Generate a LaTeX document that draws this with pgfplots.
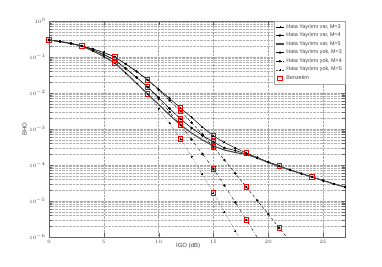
\documentclass[border=0pt]{standalone}
\usepackage{fontspec}
\setmainfont{Liberation Sans}
\usepackage{pgfplots}
\pgfplotsset{compat=1.18}
\begin{document}
\begin{tikzpicture}[x=1bp,y=1bp]
\path[use as bounding box] (-49bp,-30bp) rectangle (333bp,237bp);
\begin{axis}[
  at={(0,0)}, anchor=south west,
  scale only axis, width=296bp, height=216bp,
  ymode=log, xmin=0, xmax=27, ymin=1e-6, ymax=1,
  xtick={0,5,10,15,20,25},
  ytick={1e-6,1e-5,1e-4,1e-3,1e-2,1e-1,1},
  grid=both,
  major grid style={densely dotted, gray!70, line width=0.4pt},
  minor grid style={densely dotted, gray!60, line width=0.4pt},
  axis line style={gray!80!black, line width=0.5pt},
  tick style={gray!80!black},
  tick align=inside,
  ticklabel style={font=\fontsize{5}{6}\selectfont, text=black!75},
  label style={font=\fontsize{6}{7}\selectfont, text=black!75},
  xlabel={İGO (dB)},
  ylabel={BHO},
  xlabel style={at={(0.47,0)}, yshift=-2bp},
  ylabel style={yshift=-4bp},
  legend style={at={(1,1)}, anchor=north east, font=\fontsize{5.4}{6.4}\selectfont,
     draw=gray!70, fill=white, inner sep=1pt, row sep=-0.8pt, text=black!75},
  legend cell align=left,
  legend image code/.code={\draw[mark repeat=2,mark phase=2,#1] plot coordinates {(0bp,0bp) (4bp,0bp) (8bp,0bp)};},
  every axis plot/.append style={mark size=1pt},
]
% Hata Yayilimi var, M=3
\addplot[black, line width=0.5pt, mark=+] coordinates {
(0,0.2966)(1,0.2695)(2,0.2371)(3,0.2020)(4,0.1668)(5,0.1334)(6,0.1)(7,0.0639)(8,0.0396)(9,0.02297)
(10,0.01292)(11,0.00704)(12,0.00383)(13,0.00209)(14,0.001136)(15,0.000639)(16,0.000422)(17,0.000297)
(18,0.000215)(19,0.000162)(20,0.000121)(21,9.38e-5)(22,7.26e-5)(23,5.80e-5)(24,4.64e-5)(25,3.71e-5)(26,2.97e-5)(27,2.45e-5)};
\addlegendentry{Hata Yayılımı var, M=3}
% Hata Yayilimi var, M=4
\addplot[black, line width=0.5pt, mark=*] coordinates {
(0,0.2966)(1,0.2695)(2,0.2371)(3,0.2020)(4,0.1564)(5,0.1173)(6,0.0825)(7,0.0479)(8,0.02695)(9,0.01468)
(10,0.0075)(11,0.00371)(12,0.00190)(13,0.001066)(14,0.00066)(15,0.000435)(16,0.000297)(17,0.000253)
(18,0.000202)(19,0.000156)(20,0.000121)(21,9.38e-5)(22,7.26e-5)(23,5.80e-5)(24,4.64e-5)(25,3.71e-5)(26,2.97e-5)(27,2.45e-5)};
\addlegendentry{Hata Yayılımı var, M=4}
% Hata Yayilimi var, M=5
\addplot[gray!60!black, line width=1.1pt] coordinates {
(0,0.2966)(1,0.2695)(2,0.2371)(3,0.2020)(4,0.1468)(5,0.1032)(6,0.0681)(7,0.0359)(8,0.01836)(9,0.00938)
(10,0.00479)(11,0.00245)(12,0.001292)(13,0.000774)(14,0.000495)(15,0.000337)(16,0.000261)(17,0.000222)
(18,0.000196)(19,0.000156)(20,0.000117)(21,9.08e-5)(22,7.26e-5)(23,5.80e-5)(24,4.64e-5)(25,3.71e-5)(26,2.97e-5)(27,2.45e-5)};
\addlegendentry{Hata Yayılımı var, M=5}
% Hata Yayilimi yok, M=3
\addplot[black, densely dashed, line width=0.4pt, mark=*, mark options={solid}] coordinates {
(0,0.2966)(1,0.2695)(2,0.2371)(3,0.2020)(4,0.1668)(5,0.1334)(6,0.1)(7,0.0639)(8,0.0396)(9,0.02297)
(10,0.01212)(11,0.00619)(12,0.00316)(13,0.001516)(14,0.000704)(15,0.000316)(16,0.000138)(17,5.80e-5)
(18,2.45e-5)(19,1.03e-5)(20,4.35e-6)(21,1.78e-6)(22,7.50e-7)};
\addlegendentry{Hata Yayılımı yok, M=3}
% Hata Yayilimi yok, M=4
\addplot[black, dashdotted, line width=0.4pt, mark=*, mark options={solid}] coordinates {
(0,0.2966)(1,0.2695)(2,0.2371)(3,0.2020)(4,0.1564)(5,0.1173)(6,0.0825)(7,0.0479)(8,0.02695)(9,0.01468)
(10,0.00681)(11,0.00297)(12,0.001292)(13,0.000511)(14,0.000202)(15,7.74e-5)(16,2.70e-5)(17,9.08e-6)
(18,2.97e-6)(19,9.68e-7)(20,3.16e-7)};
\addlegendentry{Hata Yayılımı yok, M=4}
% Hata Yayilimi yok, M=5
\addplot[gray!70!black, densely dotted, line width=0.5pt, mark=+, mark options={solid, black}] coordinates {
(0,0.2966)(1,0.2695)(2,0.2371)(3,0.2020)(4,0.1468)(5,0.1032)(6,0.0681)(7,0.0359)(8,0.01836)(9,0.00938)
(10,0.00371)(11,0.001422)(12,0.000528)(13,0.000172)(14,5.45e-5)(15,1.67e-5)(16,4.95e-6)(17,1.47e-6)(18,4.35e-7)};
\addlegendentry{Hata Yayılımı yok, M=5}
% Benzetim
\addplot[only marks, red, mark=square, mark size=2.2pt, line width=0.9pt] coordinates {
(0,0.2966)(3,0.2020)(6,0.1)(6,0.0825)(6,0.0681)(9,0.02297)(9,0.01468)(9,0.00938)
(12,0.00383)(12,0.00316)(12,0.00190)(12,0.001292)(12,0.000528)
(15,0.000639)(15,0.000435)(15,0.000337)(15,0.000316)(15,7.74e-5)(15,1.67e-5)
(18,0.000215)(18,2.45e-5)(18,2.97e-6)(21,9.38e-5)(21,1.78e-6)(24,4.64e-5)};
\addlegendentry{Benzetim}
\end{axis}
\end{tikzpicture}
\end{document}
